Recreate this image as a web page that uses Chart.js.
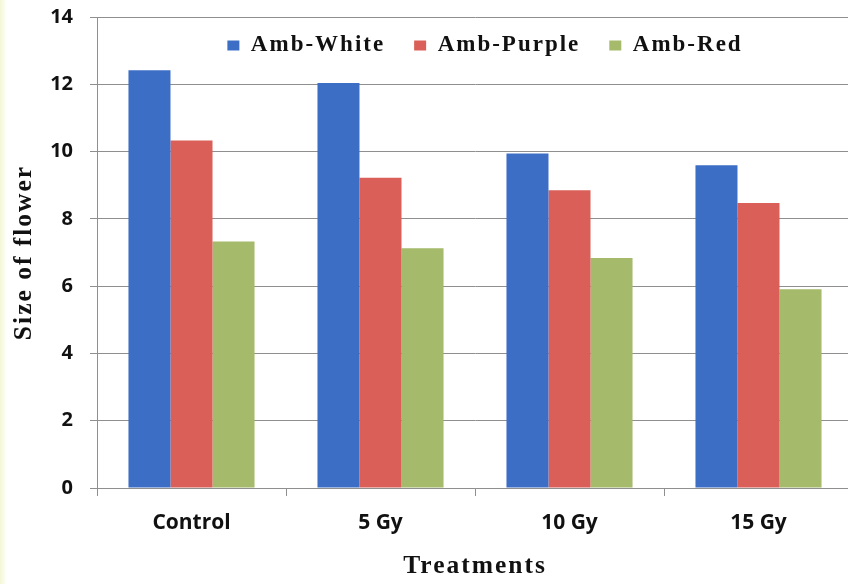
<!DOCTYPE html>
<html>
<head>
<meta charset="utf-8">
<script src="https://cdn.jsdelivr.net/npm/chart.js@4/dist/chart.umd.min.js"></script>
<style>
  html, body { margin: 0; padding: 0; background: #ffffff; overflow: hidden; width: 848px; height: 584px; }
  #wrap { position: relative; width: 853px; height: 584px; }
  #edge { position: absolute; left: 0; top: 0; width: 7px; height: 584px;
          background: linear-gradient(to right, #f3f7d4, #ffffff); }
  #chart { position: absolute; left: 0; top: 0; }
</style>
</head>
<body>
<div id="wrap">
  <div id="edge"></div>
  <canvas id="chart" width="853" height="584"></canvas>
</div>
<script>
// Flower size by gamma-ray treatment for three Amb varieties
const treatments = ['Control', '5 Gy', '10 Gy', '15 Gy'];
const ambWhite  = [12.42, 12.04, 9.94, 9.59];
const ambPurple = [10.33, 9.22, 8.85, 8.47];
const ambRed    = [7.33, 7.13, 6.84, 5.91];
const seriesNames = ['Amb-White', 'Amb-Purple', 'Amb-Red'];
const yMin = 0, yMax = 14, yStep = 2;

const GRID = '#8f8f8f';
const TEXT = '#111111';
const tickFont = { family: "'Open Sans', sans-serif", weight: 'bold' };
const serifFont = { family: "'Liberation Serif', 'Times New Roman', serif", weight: 'bold' };

// Wider tracking for the serif legend and titles; tick labels use normal spacing.
const textSpacing = {
  id: 'textSpacing',
  beforeLayout(chart) { chart.ctx.letterSpacing = '2px'; },
  afterLayout(chart) {
    // Legend sits inside the plot, just under the top gridline
    const lg = chart.legend, a = chart.chartArea;
    if (!lg) return;
    lg.left = a.left + 10;
    lg.right = a.right + 10;
    lg.width = lg.right - lg.left;
    lg.top = 5;
    lg.bottom = 80;
    lg.height = lg.bottom - lg.top;
  },
  beforeDraw(chart) { chart.ctx.letterSpacing = '2px'; },
  beforeDatasetsDraw(chart) { chart.ctx.letterSpacing = '0px'; }
};

new Chart(document.getElementById('chart'), {
  type: 'bar',
  data: {
    labels: treatments,
    datasets: [
      { label: seriesNames[0], data: ambWhite,  backgroundColor: '#3D6EC6' },
      { label: seriesNames[1], data: ambPurple, backgroundColor: '#DA5F58' },
      { label: seriesNames[2], data: ambRed,    backgroundColor: '#A5BA6B' }
    ]
  },
  options: {
    responsive: false,
    animation: false,
    devicePixelRatio: 1,
    datasets: {
      bar: { categoryPercentage: 0.667, barPercentage: 1.0, borderWidth: 0 }
    },
    layout: { padding: { top: 16, left: 0, right: 0, bottom: 0 } },
    plugins: {
      legend: {
        position: 'top',
        align: 'center',
        maxHeight: 1,
        labels: {
          boxWidth: 12,
          boxHeight: 10,
          padding: 29,
          color: TEXT,
          font: Object.assign({ size: 23 }, serifFont)
        }
      },
      tooltip: { enabled: false }
    },
    scales: {
      x: {
        grid: {
          display: true,
          drawOnChartArea: false,
          drawTicks: true,
          tickLength: 8,
          color: GRID,
          offset: true
        },
        border: { display: true, color: GRID, width: 1 },
        ticks: {
          font: Object.assign({ size: 21 }, tickFont),
          color: TEXT,
          padding: 14,
          maxRotation: 0,
          autoSkip: false,
          z: 1
        },
        title: {
          display: true,
          text: 'Treatments',
          color: TEXT,
          font: Object.assign({ size: 25.5 }, serifFont),
          padding: { top: 0, bottom: 2 }
        },
        afterFit(scale) { scale.height = 96; }
      },
      y: {
        min: yMin,
        max: yMax,
        grid: { color: GRID, lineWidth: 1, drawTicks: true, tickLength: 7 },
        border: { display: true, color: GRID, width: 1 },
        ticks: {
          stepSize: yStep,
          font: Object.assign({ size: 20 }, tickFont),
          color: TEXT,
          padding: 17,
          z: 1
        },
        title: {
          display: true,
          text: 'Size of flower',
          color: TEXT,
          font: Object.assign({ size: 25.5 }, serifFont),
          padding: { top: 9, bottom: 0 }
        },
        afterFit(scale) {
          scale.width = 97;
          scale.paddingTop = 0;
          scale.paddingBottom = 0;
        }
      }
    }
  },
  plugins: [textSpacing]
});
</script>
</body>
</html>
